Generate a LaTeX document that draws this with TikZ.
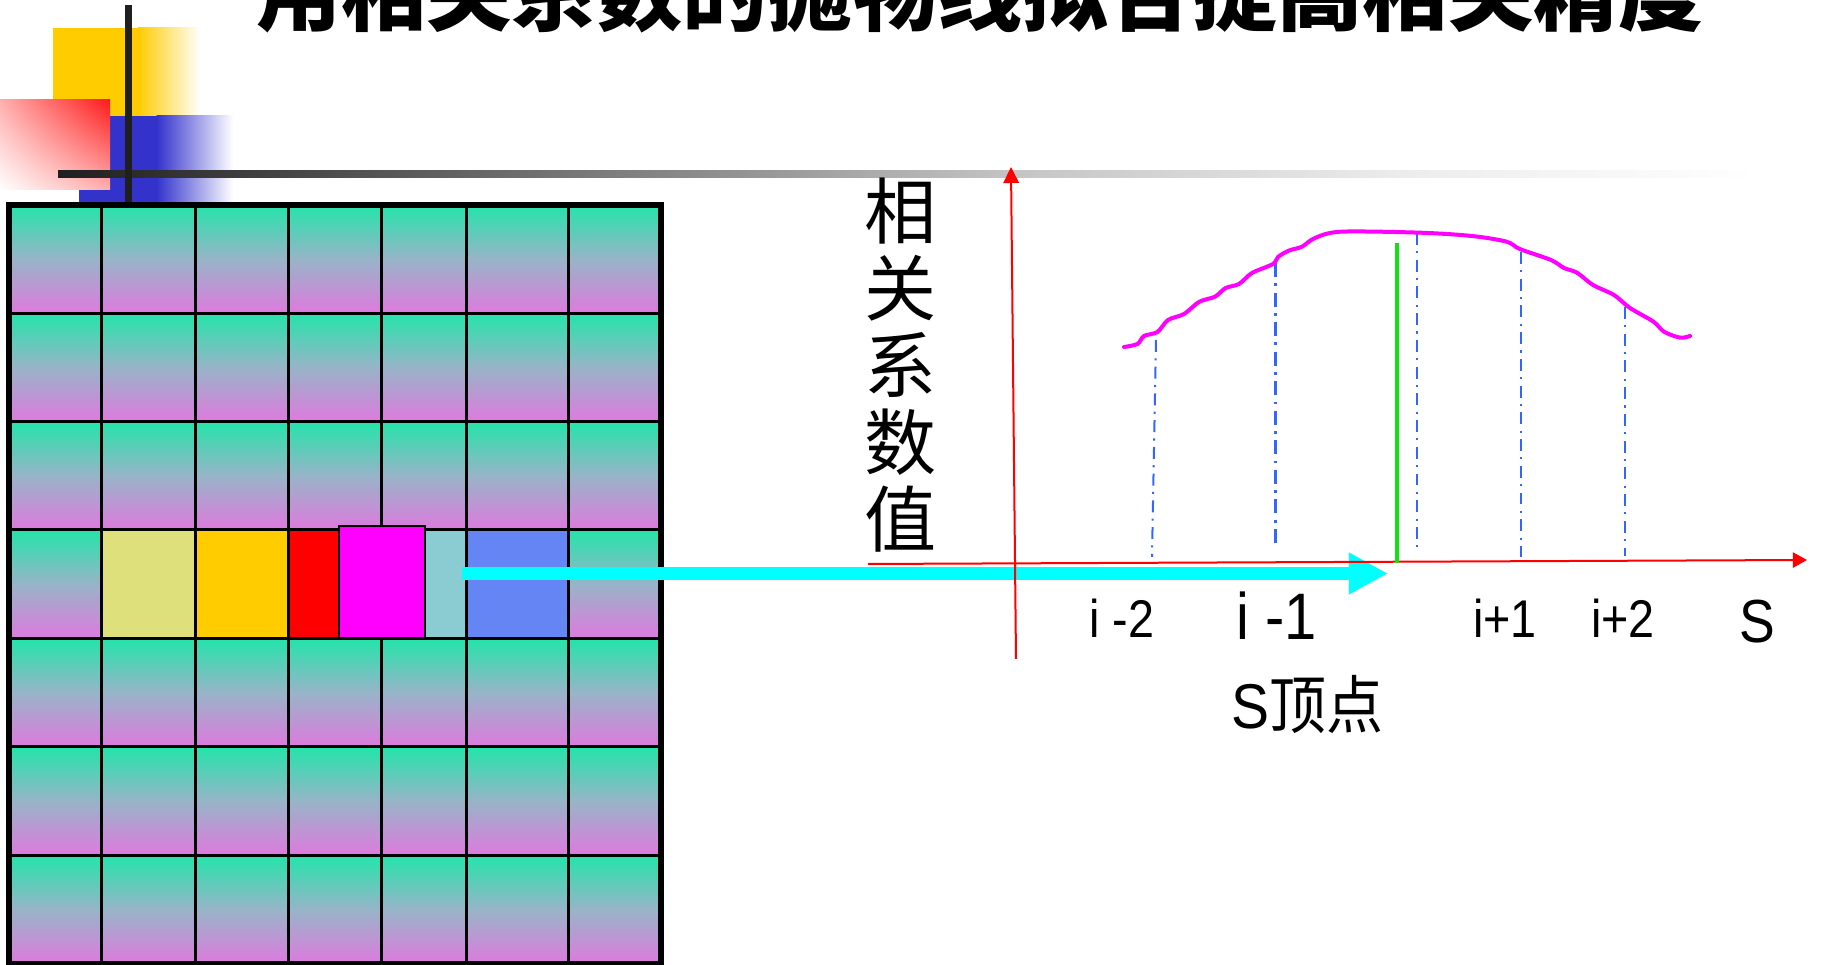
\documentclass[tikz,border=0pt]{standalone}
\usepackage{fontspec}
\usetikzlibrary{arrows.meta,shadings}
\newfontfamily\cjk{Noto Sans CJK SC}
\newfontfamily\lat{Liberation Sans}
\newlength{\pxu}\setlength{\pxu}{0.01cm}
\definecolor{decoyellow}{RGB}{255,204,0}
\definecolor{decoblue}{RGB}{51,51,204}
\definecolor{decored}{RGB}{255,26,26}
\definecolor{bardark}{RGB}{31,31,31}
\definecolor{grayA}{RGB}{140,140,140}
\definecolor{grayB}{RGB}{196,196,196}
\definecolor{grayC}{RGB}{236,236,236}
\definecolor{celltop}{RGB}{36,228,170}
\definecolor{cellmid}{RGB}{152,180,200}
\definecolor{cellbot}{RGB}{222,122,222}
\definecolor{khaki}{RGB}{222,224,124}
\definecolor{goldc}{RGB}{255,204,0}
\definecolor{redc}{RGB}{255,0,0}
\definecolor{tealc}{RGB}{139,203,210}
\definecolor{bluec}{RGB}{102,133,245}
\definecolor{arrowcyan}{RGB}{0,255,255}
\definecolor{curvemag}{RGB}{255,0,255}
\definecolor{dashblue}{RGB}{51,102,255}
\definecolor{greenl}{RGB}{20,225,20}
\definecolor{axisred}{RGB}{255,0,0}
\begin{document}
\begin{tikzpicture}[x=0.01cm,y=-0.01cm,
  gridline/.style={line width=3\pxu, black},
  cellshade/.style={top color=celltop, bottom color=cellbot, middle color=cellmid},
  axisline/.style={axisred, line width=2\pxu},
  dashdotline/.style={dashblue, line width=2\pxu, dash pattern=on 3.4pt off 1.8pt on 0.6pt off 1.8pt},
  ticklabel/.style={inner sep=0, anchor=base, font=\lat\fontsize{15.1pt}{16pt}\selectfont},
]
\useasboundingbox (0,0) rectangle (1823,965);
\clip (0,0) rectangle (1823,965);

% ---- top-left decoration ----
\fill[decoyellow] (53,28) rectangle (138,116);
\shade[left color=decoyellow, right color=white] (137.5,28) rectangle (200,116);
\fill[decoblue] (79,116) rectangle (157,202);
\shade[left color=decoblue, right color=white] (156.5,116) rectangle (233,202);
\shade[upper right=decored, upper left=decored!35!white, lower right=decored!35!white, lower left=white] (0,100) rectangle (110,190);
\shade[left color=bardark, right color=grayA] (58,171) rectangle (700.5,178);
\shade[left color=grayA, right color=grayB] (700,171) rectangle (1010.5,178);
\shade[left color=grayB, right color=grayC] (1010,171) rectangle (1400.5,178);
\shade[left color=grayC, right color=white] (1400,171) rectangle (1756,178);
\fill[bardark] (125,5) rectangle (132,202);

% ---- title ----
\node[inner sep=0, anchor=base, font=\cjk\bfseries\fontsize{24.2pt}{26pt}\selectfont] (title) at (980,25) {用相关系数的抛物线拟合提高相关精度};

% ---- grid ----
\foreach \ya/\yb in {205/313.3, 313.3/421.6, 421.6/530, 530/638.5, 638.5/747, 747/855.5, 855.5/964}
  \foreach \xa/\xb in {8.7/101.5, 101.5/195, 195/288, 288/381, 381/466.5, 466.5/568, 568/661}
    \shade[cellshade] (\xa,\ya) rectangle (\xb,\yb);
\fill[khaki] (101.5,530) rectangle (195,638.5);
\fill[goldc] (195,530) rectangle (288,638.5);
\fill[redc] (288,530) rectangle (339,638.5);
\fill[tealc] (339,530) rectangle (466.5,638.5);
\fill[bluec] (466.5,530) rectangle (568,638.5);
\foreach \x in {101.5,195,288,381,466.5,568}
  \draw[gridline] (\x,205) -- (\x,964);
\foreach \y in {313.3,421.6,530,638.5,747,855.5}
  \draw[gridline] (8.7,\y) -- (661,\y);
\draw[line width=2.5\pxu, fill=curvemag] (339,526) rectangle (425,638.5);
\draw[line width=6\pxu] (8.7,205) rectangle (661,964);

% ---- cyan arrow ----
\coordinate (arrowstart) at (462,573.5);
\coordinate (arrowtip) at (1388,573.5);
\draw[arrowcyan, line width=13.5\pxu, -{Triangle[length=11.1pt, width=11.1pt]}] (arrowstart) -- (arrowtip);

% ---- axes ----
\coordinate (xaxisstart) at (868,564);
\coordinate (xaxisend) at (1807,560);
\coordinate (yaxisstart) at (1016,659);
\coordinate (yaxisend) at (1011,167);
\draw[axisline, -{Triangle[length=4pt, width=4.3pt]}] (xaxisstart) -- (xaxisend);
\draw[axisline, -{Triangle[length=4.55pt, width=4.4pt]}] (yaxisstart) -- (yaxisend);

% ---- dash-dot lines ----
\draw[dashdotline] (1156,340) -- (1152,557);
\draw[dashdotline, line width=3\pxu, dash pattern=on 4pt off 1.8pt on 0.8pt off 1.8pt] (1275,263) -- (1275,548);
\draw[dashdotline] (1417,233) -- (1417,547);
\draw[dashdotline] (1521,252) -- (1521,557);
\draw[dashdotline] (1625,307) -- (1625,556);

% ---- green line ----
\draw[greenl, line width=4\pxu] (1397,243) -- (1397,563);

% ---- magenta curve ----
\draw[curvemag, line width=4\pxu, line cap=round, line join=round] plot[smooth, tension=0.5] coordinates {
 (1124,347) (1137.5,344) (1144,336) (1157.5,332) (1168,320) (1184,314) (1199.5,301.7)
 (1215,296.7) (1225.7,288) (1239,284) (1252,273) (1273,264) (1278,257) (1288.7,250.7)
 (1302,246.7) (1315,238) (1341,231.7) (1420,232.7) (1472,236) (1506.6,241.7) (1519.7,249)
 (1551,260) (1564,268) (1577,272.7) (1593,285) (1614,295) (1630,308) (1653.5,321.7)
 (1664,331.7) (1680,337.7) (1690,336)};

% ---- labels ----
\node[inner sep=0, align=center, font=\cjk\fontsize{20.5pt}{21.9pt}\selectfont] (ylabel) at (901,365) {相\\关\\系\\数\\值};
\node[ticklabel] (lm2) at (1122,638) {\scalebox{0.88}[1]{i -2}};
\node[ticklabel, font=\lat\fontsize{18.7pt}{20pt}\selectfont] (lm1) at (1277,640) {\scalebox{0.88}[1]{i -1}};
\node[ticklabel] (lp1) at (1505,638) {\scalebox{0.88}[1]{i+1}};
\node[ticklabel] (lp2) at (1623,638) {\scalebox{0.88}[1]{i+2}};
\node[ticklabel, font=\lat\fontsize{17.3pt}{18pt}\selectfont] (slabel) at (1757,643) {\scalebox{0.88}[1]{S}};
\node[ticklabel, font=\fontsize{18pt}{20pt}\selectfont] (stop) at (1307,729) {\scalebox{0.9}[1]{{\lat S}{\cjk 顶点}}};
\end{tikzpicture}
\end{document}
